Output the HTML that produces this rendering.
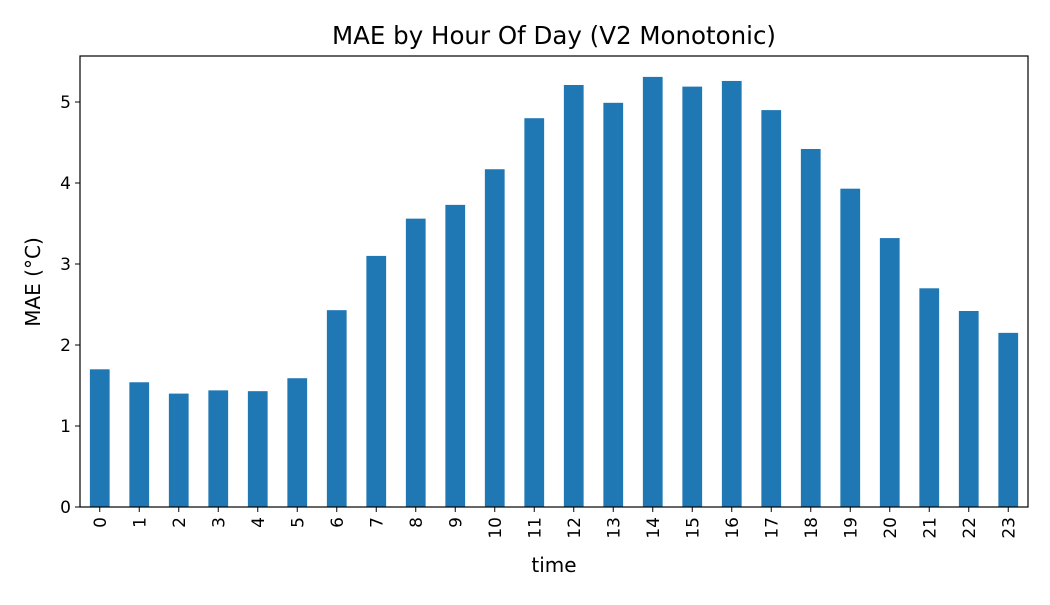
<!DOCTYPE html>
<html><head><meta charset="utf-8"><style>
body{margin:0;background:#fff;font-family:"Liberation Sans","DejaVu Sans",sans-serif;}
svg text{font-family:"DejaVu Sans","Liberation Sans",sans-serif;fill:#000;}
</style></head><body>
<svg id="chart" width="1050" height="600" xmlns="http://www.w3.org/2000/svg">
<text x="554" y="44" font-size="24.5" text-anchor="middle">MAE by Hour Of Day (V2 Monotonic)</text>
<text transform="translate(40,282) rotate(-90)" font-size="20" text-anchor="middle">MAE (°C)</text>
<text x="554" y="572" font-size="20" text-anchor="middle">time</text>
<g id="bars"></g><g id="ticks"></g>
<rect x="80" y="56" width="948" height="451" fill="none" stroke="#000" stroke-width="1.2"/>
</svg>
<script>
const categories=["0","1","2","3","4","5","6","7","8","9","10","11","12","13","14","15","16","17","18","19","20","21","22","23"];
const maeValues=[1.70,1.54,1.40,1.44,1.43,1.59,2.43,3.10,3.56,3.73,4.17,4.80,5.21,4.99,5.31,5.19,5.26,4.90,4.42,3.93,3.32,2.70,2.42,2.15];
const yTicks=[0,1,2,3,4,5];
const L=80,R=1028,T=56,B=507,yMax=5.568;
const NS="http://www.w3.org/2000/svg";
const step=(R-L)/categories.length;
const x=i=>L+step*(i+0.5);
const y=v=>B-(v/yMax)*(B-T);
const bars=document.getElementById('bars'),ticks=document.getElementById('ticks');
categories.forEach((c,i)=>{
 const r=document.createElementNS(NS,'rect');
 r.setAttribute('x',x(i)-step/4);r.setAttribute('width',step/2);
 r.setAttribute('y',y(maeValues[i]));r.setAttribute('height',B-y(maeValues[i]));
 r.setAttribute('fill','#1f77b4');
 
 
 bars.appendChild(r);
 const l=document.createElementNS(NS,'line');
 l.setAttribute('x1',x(i));l.setAttribute('x2',x(i));l.setAttribute('y1',B);l.setAttribute('y2',B+5);l.setAttribute('stroke','#000');
 
 
 ticks.appendChild(l);
 const t=document.createElementNS(NS,'text');
 t.setAttribute('transform','translate('+(x(i)+6)+','+(B+10)+') rotate(-90)');
 t.setAttribute('font-size','17');t.setAttribute('text-anchor','end');t.textContent=c;
 
 
 ticks.appendChild(t);
});
yTicks.forEach(v=>{
 const l=document.createElementNS(NS,'line');
 l.setAttribute('x1',L-5);l.setAttribute('x2',L);l.setAttribute('y1',y(v));l.setAttribute('y2',y(v));l.setAttribute('stroke','#000');
 
 
 ticks.appendChild(l);
 const t=document.createElementNS(NS,'text');
 t.setAttribute('x',L-9);t.setAttribute('y',y(v)+6);t.setAttribute('font-size','17');t.setAttribute('text-anchor','end');t.textContent=v;
 
 
 ticks.appendChild(t);
});
</script>
</body></html>
